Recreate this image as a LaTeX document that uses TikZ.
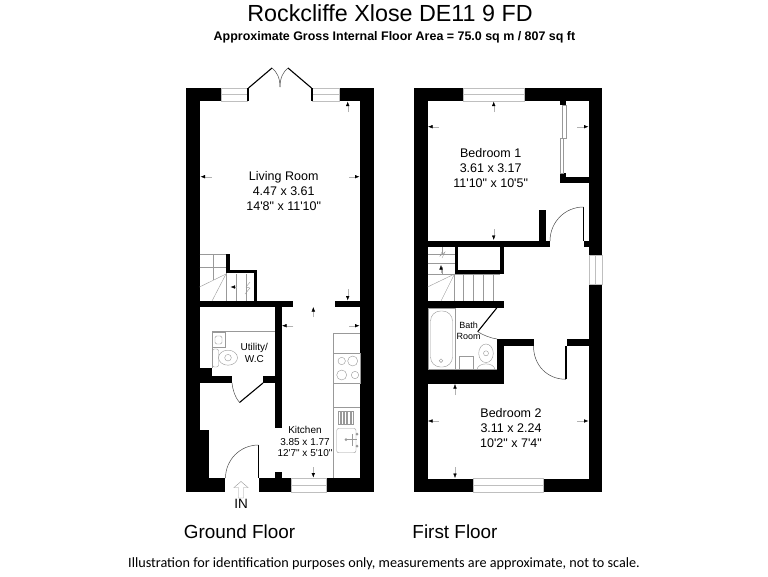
\documentclass[tikz,border=0pt]{standalone}
\usepackage{fontspec}
\setmainfont{Liberation Sans}
\newfontfamily\roomfont{Liberation Sans}
\newfontfamily\notefont{Carlito}
\usetikzlibrary{arrows.meta}
\tikzset{
  wall/.style={fill=black},
  fixture/.style={draw=black!40,line width=0.4pt},
  glazing/.style={draw=black!25,line width=0.5pt},
  leaf/.style={draw=black,line width=1.1pt},
  swing/.style={draw=black!70,line width=0.5pt},
  dimarrow/.style={draw=black!30,line width=0.4pt,-{Latex[black,length=4.5pt,width=3.5pt]}},
  roomlabel/.style={align=center,inner sep=0pt,font=\roomfont\fontsize{12.5}{15}\selectfont},
  smalllabel/.style={align=center,inner sep=0pt,font=\roomfont\fontsize{10}{11.7}\selectfont}
}
\begin{document}
\begin{tikzpicture}[x=1pt,y=-1pt]
  \useasboundingbox (0,0) rectangle (768,576);
  \fill[white] (0,0) rectangle (768,576);
  % headings
  \node[inner sep=0pt,font=\fontsize{23.3}{26}\selectfont] (title) at (390,13) {Rockcliffe Xlose DE11 9 FD};
  \node[inner sep=0pt,font=\fontsize{12.45}{14}\selectfont\bfseries] (area) at (394.5,37) {Approximate Gross Internal Floor Area = 75.0 sq m / 807 sq ft};
  \node[inner sep=0pt,font=\fontsize{18.9}{21}\selectfont] (groundname) at (239.5,532) {Ground Floor};
  \node[inner sep=0pt,font=\fontsize{18.9}{21}\selectfont] (firstname) at (455,532) {First Floor};
  \node[inner sep=0pt,font=\notefont\fontsize{14.2}{16}\selectfont] (note) at (384,564) {Illustration for identification purposes only, measurements are approximate, not to scale.};
  % walls, ground floor then first floor
  \foreach \xa/\ya/\xb/\yb in {
      186/88/199.5/492, 360/88/374/492, 186/88/221/101, 339/88/374/101,
      226/254/230/273, 226/270/257/273, 254/270/257/307, 199/301/293/307,
      335/301/360/307, 275/307/281.5/428, 199/368/212/383, 199/376/232/383,
      263/376/275/383, 199/430/209/478, 186/478/225/492, 258.5/478/291.5/492,
      326.5/478/374/492, 275/472/281.5/478,
      414/88/427.5/492, 589/88/602/255.5, 589/284.5/602/492, 414/88/463/101,
      524.5/88/602/101, 560/101/566/105, 560/173/566/183, 560/177/589/183,
      539/210/545.5/247, 427/240.5/550/247, 584/240.5/589/247,
      454.5/247/458/273, 500/247/503.5/273, 454.5/270/503.5/273.5,
      427/301/503.5/307.5, 497/339/533.5/346, 566.5/339/589/346,
      497/339/503.5/383, 427/370/503.5/383.5, 414/478.5/473.5/492,
      543/478.5/602/492} {
    \fill[wall] (\xa,\ya) rectangle (\xb,\yb);
  }
  % windows
  \foreach \xa/\ya/\xb/\yb in {221/88/247/101, 312/88/339/101, 291.5/478/326.5/492,
      463/88/524.5/101, 473.5/478.5/543/492} {
    \draw[glazing] (\xa,\ya) rectangle (\xb,\yb);
    \draw[glazing] (\xa,{(\ya+\yb)/2}) -- (\xb,{(\ya+\yb)/2});
  }
  \draw[glazing] (589,255.5) rectangle (602,284.5);
  \draw[glazing] (595.5,255.5) -- (595.5,284.5);
  % french doors
  \fill[wall] (247,88) rectangle (249,101);
  \fill[wall] (311,88) rectangle (313,101);
  \draw[leaf] (248.5,88) -- (272,68);
  \draw[leaf] (311.5,88) -- (288,68);
  \draw[swing] (272,68) .. controls (277,72) and (280,78) .. (280,87);
  \draw[swing] (288,68) .. controls (283,72) and (280,78) .. (280,87);
  % other doors
  \draw[leaf] (263,383) -- (239.5,402.5);
  \draw[swing] (232,383) .. controls (233,391) and (235,397) .. (239.5,402.5);
  \draw[leaf] (258.5,445) -- (258.5,478);
  \draw[swing] (258.5,445) .. controls (240,445) and (225.5,460) .. (225.5,478);
  \draw[leaf] (583.5,207) -- (583.5,240.5);
  \draw[swing] (583.5,207) .. controls (565,207) and (550,222) .. (550,241);
  \draw[leaf] (496.7,308) -- (477.7,331.7);
  \draw[swing] (477.7,331.7) .. controls (483,335) and (490,338) .. (497,339);
  \draw[leaf] (566,346) -- (566,379.3);
  \draw[swing] (533.5,346) .. controls (533.5,365) and (547,379.3) .. (566,379.3);
  % wardrobe
  \draw[fixture] (562,105) rectangle (566,138);
  \draw[fixture] (560,138) rectangle (563.5,173);
  % stairs, ground floor
  \foreach \y in {254,267.3} \draw[fixture] (199.5,\y) -- (226,\y);
  \foreach \x in {236,246} \draw[fixture] (\x,274) -- (\x,301);
  \draw[fixture] (213.3,254) -- (213.3,280);
  \draw[fixture] (226,273) -- (226,301);
  \draw[fixture] (226,274) -- (199.5,287);
  \draw[fixture] (226,274) -- (212,301);
  \draw[fixture] (250,282) -- (246,287) -- (250,288) -- (245,294);
  \draw[dimarrow] (237,287) -- (230.5,287);
  % stairs, first floor
  \foreach \y in {254,263.3} \draw[fixture] (427.5,\y) -- (454.5,\y);
  \draw[fixture] (427.5,274) -- (500,274);
  \foreach \x in {454.5,463.3,473.3,483.3,493.3} \draw[fixture] (\x,274) -- (\x,301);
  \draw[fixture] (441.7,247) -- (441.7,255);
  \draw[fixture] (441.7,267) -- (441.7,274);
  \draw[fixture] (454.5,274) -- (427.5,287);
  \draw[fixture] (454.5,274) -- (441,301);
  \draw[fixture] (442,258) -- (445,252) -- (440,256) -- (443,250);
  \draw[dimarrow] (441,273) -- (441,265);
  % wc
  \draw[fixture] (212,331.5) -- (275,331.5);
  \draw[fixture] (211.7,331.5) -- (211.7,368);
  \draw[fixture] (212,332) rectangle (225,347);
  \draw[fixture,rounded corners=1.5pt] (215,336) rectangle (222,344);
  \draw[fixture,rounded corners=2pt] (212.5,349) rectangle (218.5,367);
  \draw[fixture] (228,357.7) ellipse (9.5 and 7.5);
  \draw[fixture] (228,357.7) circle (3.3);
  % kitchen units
  \draw[fixture] (360,333.3) -- (333.5,333.3) -- (333.5,478);
  \draw[fixture] (333.5,353.3) rectangle (360,382.7);
  \draw[fixture] (333.5,407.3) -- (360,407.3);
  \foreach \cx/\cy/\r in {341.7/361/3.7, 352.7/361/5, 341.7/375/5, 355/375/3.7}
    \draw[fixture] (\cx,\cy) circle (\r);
  \foreach \x in {337.7,341,344.3,347.6,351}
    \draw[fixture] (\x,411) rectangle ++(2.3,13.5);
  \draw[fixture,rounded corners=2pt] (336.7,428.5) rectangle (356,452.7);
  \draw[fixture] (346,439.5) -- (357,439.5);
  \draw[fixture] (352,434) -- (352,446);
  \foreach \cx/\cy in {346/439.5, 357/434, 357/446}
    \fill[black!40] (\cx,\cy) circle (1.5);
  % bathroom
  \draw[fixture] (428,308.5) rectangle (455,369.5);
  \draw[fixture,rounded corners=10pt] (430.5,311) rectangle (452.5,367);
  \draw[fixture] (441,360.7) circle (1.8);
  \draw[fixture] (458.7,356) rectangle (473.3,369.5);
  \draw[fixture] (455,369.5) -- (497,369.5);
  \draw[fixture] (486,353.3) ellipse (7.3 and 9.3);
  \draw[fixture] (486,353.3) circle (2.5);
  \draw[fixture] (477,369.5) .. controls (478,362) and (494,362) .. (495,369.5);
  % dimension arrows
  \foreach \xa/\ya/\xb/\yb in {
      211.7/176.7/200.5/176.7, 349/176.7/359.5/176.7, 347.7/112/347.7/101.5, 347.7/289/347.7/300.5,
      313.3/317/313.3/307, 293.3/325.7/282/325.7, 349/325.7/359.5/325.7, 313.3/467.3/313.3/477.5,
      439/126.7/428/126.7, 577.3/126.7/588.5/126.7, 493.7/112/493.7/101.5, 493.7/229/493.7/240,
      439/421/428/421, 577.3/421/588.5/421, 455/395/455/384, 455/467/455/478} {
    \draw[dimarrow] (\xa,\ya) -- (\xb,\yb);
  }
  % entrance
  \draw[fixture,fill=white] (238.5,498) -- (238.5,487.5) -- (234,487.5) -- (241,481.5) -- (248,487.5) -- (243.5,487.5) -- (243.5,498) -- cycle;
  \node[inner sep=0pt,font=\fontsize{13.5}{15}\selectfont] (entrance) at (241,503.5) {IN};
  % room names
  \node[roomlabel] (living) at (283.7,191) {Living Room\\4.47 x 3.61\\14'8" x 11'10"};
  \node[roomlabel] (bedone) at (490.7,168.5) {Bedroom 1\\3.61 x 3.17\\11'10" x 10'5"};
  \node[roomlabel] (bedtwo) at (511,428.3) {Bedroom 2\\3.11 x 2.24\\10'2" x 7'4"};
  \node[smalllabel] (kitchen) at (305,441.7) {Kitchen\\3.85 x 1.77\\12'7" x 5'10"};
  \node[smalllabel] (utility) at (254.3,352.8) {Utility/\\W.C};
  \node[smalllabel,font=\roomfont\fontsize{9}{10.5}\selectfont] (bath) at (468.7,331) {Bath\\Room};
\end{tikzpicture}
\end{document}
